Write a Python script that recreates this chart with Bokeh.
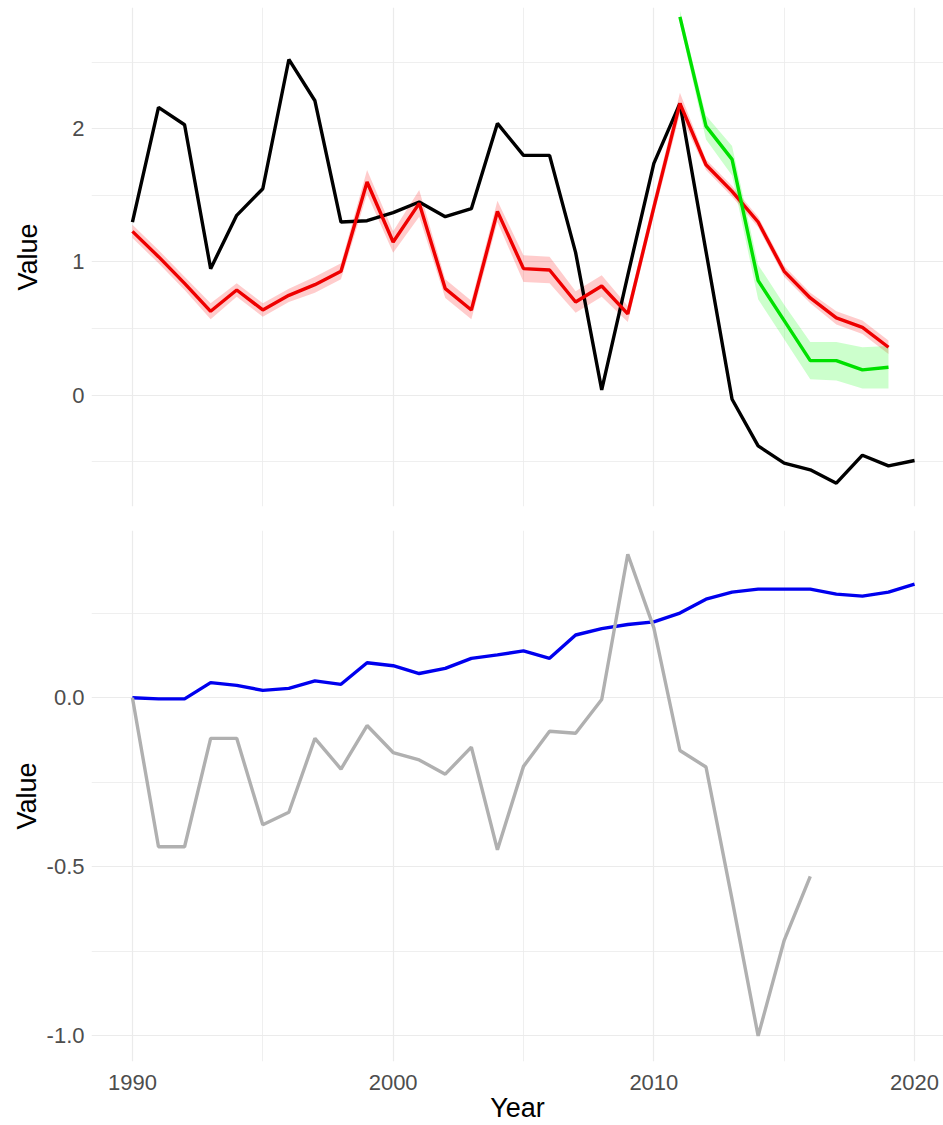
from bokeh.plotting import figure
from bokeh.layouts import column
from bokeh.models import FixedTicker, Range1d
from bokeh.embed import file_html
from bokeh.resources import INLINE

# ---- data ----
years_all = list(range(1990, 2021))
black_vals = [1.30, 2.16, 2.03, 0.95, 1.35, 1.55, 2.52, 2.21, 1.30, 1.31,
              1.37, 1.45, 1.34, 1.40, 2.04, 1.80, 1.80, 1.07, 0.04, 0.90,
              1.74, 2.19, 1.08, -0.03, -0.38, -0.51, -0.56, -0.66, -0.45, -0.53,
              -0.49]
years_red = list(range(1990, 2020))
red_vals = [1.23, 1.04, 0.84, 0.63, 0.79, 0.64, 0.75, 0.83, 0.93, 1.60,
            1.15, 1.44, 0.80, 0.64, 1.38, 0.95, 0.94, 0.70, 0.82, 0.61,
            1.41, 2.19, 1.73, 1.53, 1.30, 0.93, 0.73, 0.58, 0.51, 0.36]
red_err = [0.05, 0.05, 0.05, 0.06, 0.05, 0.05, 0.05, 0.06, 0.06, 0.09,
           0.08, 0.10, 0.07, 0.07, 0.08, 0.10, 0.10, 0.08, 0.08, 0.06,
           0.06, 0.08, 0.04, 0.04, 0.04, 0.04, 0.04, 0.05, 0.05, 0.05]
years_green = list(range(2011, 2020))
green_vals = [2.84, 2.02, 1.77, 0.86, 0.56, 0.26, 0.26, 0.19, 0.21]
green_lo = [2.79, 1.92, 1.65, 0.72, 0.42, 0.12, 0.11, 0.05, 0.05]
green_hi = [2.89, 2.10, 1.87, 0.98, 0.68, 0.40, 0.40, 0.36, 0.37]

blue_vals = [0.000, -0.003, -0.003, 0.045, 0.037, 0.022, 0.028, 0.050, 0.040, 0.104,
             0.095, 0.072, 0.087, 0.117, 0.127, 0.139, 0.117, 0.186, 0.205, 0.217,
             0.225, 0.251, 0.292, 0.313, 0.322, 0.322, 0.322, 0.307, 0.301, 0.313,
             0.337]
years_gray = list(range(1990, 2017))
gray_vals = [0.000, -0.441, -0.441, -0.120, -0.120, -0.376, -0.339, -0.120, -0.211, -0.082,
             -0.162, -0.184, -0.226, -0.146, -0.450, -0.203, -0.099, -0.105, -0.005, 0.425,
             0.207, -0.156, -0.205, -0.597, -1.001, -0.718, -0.529]

x_ticks = [1990, 2000, 2010, 2020]
x_minor = [1985, 1995, 2005, 2015]
top_ticks = [0, 1, 2]
top_minor = [-0.5, 0.5, 1.5, 2.5]
bot_ticks = [-1.0, -0.5, 0.0]
bot_minor = [-0.75, -0.25, 0.25]
bot_labels = {-1.0: "-1.0", -0.5: "-0.5", 0.0: "0.0"}

FONT = "Liberation Sans"
GRID = "#EBEBEB"
TICK_COL = "#4D4D4D"
LW = 3.4


def style(p, yt, ym):
    p.outline_line_color = None
    p.background_fill_color = "white"
    p.border_fill_color = "white"
    p.min_border_left = 91
    p.min_border_right = 0
    p.xaxis.ticker = FixedTicker(ticks=x_ticks, minor_ticks=x_minor)
    p.yaxis.ticker = FixedTicker(ticks=yt, minor_ticks=ym)
    for ax in (p.xaxis, p.yaxis):
        ax.axis_line_color = None
        ax.major_tick_line_color = None
        ax.minor_tick_line_color = None
        ax.major_tick_out = 0
        ax.minor_tick_out = 0
        ax.major_tick_in = 0
        ax.minor_tick_in = 0
        ax.major_label_text_font = FONT
        ax.major_label_text_font_size = "22px"
        ax.major_label_text_color = TICK_COL
        ax.axis_label_text_font = FONT
        ax.axis_label_text_font_size = "27px"
        ax.axis_label_text_font_style = "normal"
        ax.axis_label_text_color = "black"
    for g in (p.xgrid, p.ygrid):
        g.grid_line_color = GRID
        g.grid_line_width = 1.2
        g.minor_grid_line_color = GRID
        g.minor_grid_line_width = 0.8
    p.yaxis.major_label_standoff = 7


# ---- top panel ----
p1 = figure(width=943, height=518, output_backend="svg", toolbar_location=None,
            x_range=Range1d(1988.43, 2021.11), y_range=Range1d(-0.835, 2.91))
style(p1, top_ticks, top_minor)
p1.min_border_top = 7
p1.min_border_bottom = 12
p1.xaxis.visible = False
p1.yaxis.axis_label = "Value"
p1.yaxis.axis_label_standoff = 26

red_lo = [v - e for v, e in zip(red_vals, red_err)]
red_hi = [v + e for v, e in zip(red_vals, red_err)]
p1.varea(x=years_red, y1=red_lo, y2=red_hi, fill_color="red", fill_alpha=0.2)
p1.varea(x=years_green, y1=green_lo, y2=green_hi, fill_color="#00FF00", fill_alpha=0.2)
p1.line(years_all, black_vals, line_color="black", line_width=LW)
p1.line(years_red, red_vals, line_color="#EE0000", line_width=LW)
p1.line(years_green, green_vals, line_color="#00E000", line_width=LW)

# ---- bottom panel ----
p2 = figure(width=943, height=607, output_backend="svg", toolbar_location=None,
            x_range=p1.x_range, y_range=Range1d(-1.077, 0.4955))
style(p2, bot_ticks, bot_minor)
p2.min_border_top = 12
p2.min_border_bottom = 62
p2.yaxis.major_label_overrides = bot_labels
p2.yaxis.axis_label = "Value"
p2.yaxis.axis_label_standoff = 2
p2.xaxis.axis_label = "Year"
p2.xaxis.major_label_standoff = 13
p2.xaxis.axis_label_standoff = 0

p2.line(years_all, blue_vals, line_color="#0000EE", line_width=LW)
p2.line(years_gray, gray_vals, line_color="#B0B0B0", line_width=LW)

layout = column(p1, p2)
open("out.html", "w").write(file_html(layout, INLINE))
